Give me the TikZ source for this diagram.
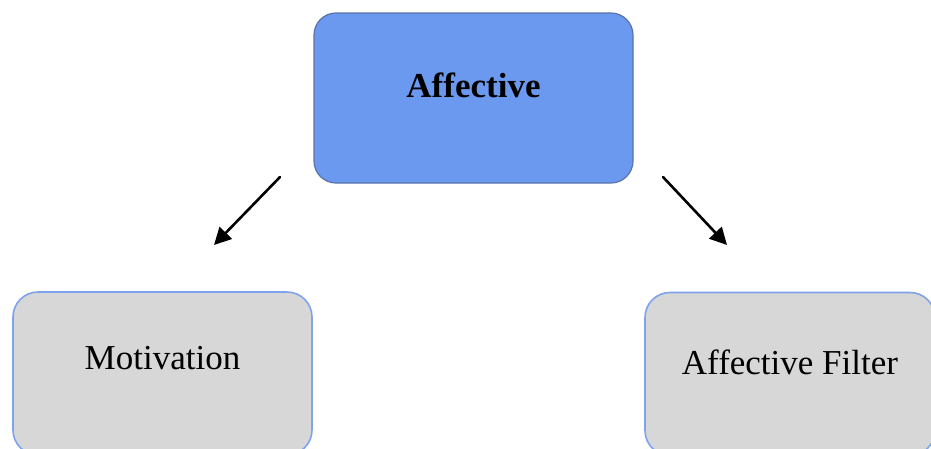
\documentclass[tikz,border=0pt]{standalone}
\usepackage{fontspec}
\setmainfont{Liberation Serif}
\usetikzlibrary{arrows.meta}
\definecolor{topfill}{HTML}{6C99F0}
\definecolor{topline}{HTML}{5A72A8}
\definecolor{subfill}{HTML}{D7D7D7}
\definecolor{subline}{HTML}{7EA3EA}
\tikzset{
  headbox/.style={draw=topline, line width=1.2pt, fill=topfill, rounded corners=22pt,
    minimum width=319pt, minimum height=170pt, inner sep=0pt},
  subbox/.style={draw=subline, line width=1.6pt, fill=subfill, rounded corners=25pt,
    minimum width=#1, minimum height=163pt, inner sep=0pt},
  boxtext/.style={font=\fontsize{35}{42}\selectfont, inner sep=0pt},
  link/.style={line width=2.6pt, line cap=round, -{Triangle[length=17pt,width=17pt]}},
}
\begin{document}
\begin{tikzpicture}[x=1pt,y=-1pt]
  \useasboundingbox (0,0) rectangle (931,448);
  \clip (0,0) rectangle (931,448);
  \fill[white] (0,0) rectangle (931,448);

  % category and its two components, captions set above the box centres
  \node[headbox, label={[boxtext, font=\fontsize{35}{42}\selectfont\bfseries, yshift=13pt]center:Affective}]
    (affective) at (473.5,98) {};
  \node[subbox=299pt, label={[boxtext, yshift=15pt]center:Motivation}]
    (motivation) at (162.5,373.5) {};
  \node[subbox=290pt, label={[boxtext, yshift=12pt]center:Affective Filter}]
    (filter) at (790,374) {};

  % free-standing arrows between the boxes
  \coordinate (lstart) at (280,177);
  \coordinate (lend)   at (214,245);
  \coordinate (rstart) at (663,177);
  \coordinate (rend)   at (727,245);
  \draw[link] (lstart) -- (lend);
  \draw[link] (rstart) -- (rend);
\end{tikzpicture}
\end{document}
